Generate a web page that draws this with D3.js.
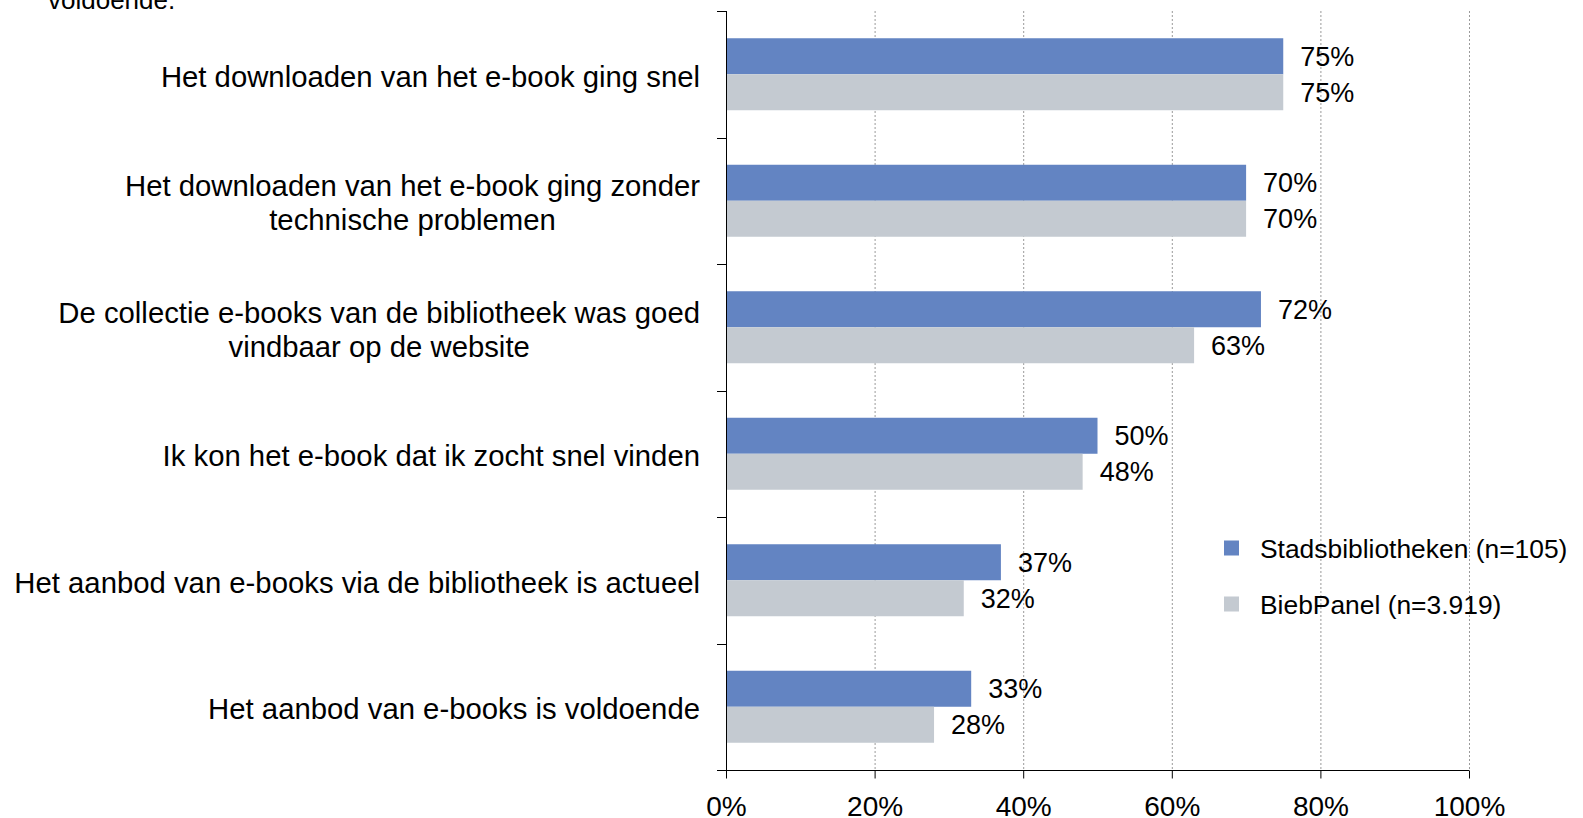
<!DOCTYPE html>
<html>
<head>
<meta charset="utf-8">
<script src="https://cdn.jsdelivr.net/npm/d3@7"></script>
<style>
  html, body { margin: 0; padding: 0; background: #fff; }
  svg { display: block; font-family: "Liberation Sans", Arial, sans-serif; }
</style>
</head>
<body>
<svg id="chart" width="1583" height="818"></svg>
<script>
// Statements about e-book use, top to bottom
const categories = [
  "Het downloaden van het e-book ging snel",
  "Het downloaden van het e-book ging zonder technische problemen",
  "De collectie e-books van de bibliotheek was goed vindbaar op de website",
  "Ik kon het e-book dat ik zocht snel vinden",
  "Het aanbod van e-books via de bibliotheek is actueel",
  "Het aanbod van e-books is voldoende"
];
const seriesNames = ["Stadsbibliotheken (n=105)", "BiebPanel (n=3.919)"];
const stadsValues = [75, 70, 72, 50, 37, 33];
const biebValues  = [75, 70, 63, 48, 32, 28];
const tickValues  = [0, 20, 40, 60, 80, 100];
const titleTail   = "voldoende.";

const colors = ["#6384c2", "#c4cad1"];

const svg = d3.select("#chart");

const x = d3.scaleLinear().domain([0, 100]).range([726, 1469]);
const y = d3.scaleBand().domain(categories).range([11, 770]).padding(0);
const ySub = d3.scaleBand().domain(seriesNames).range([0, y.bandwidth()])
  .paddingInner(0).paddingOuter(0.757);
const color = d3.scaleOrdinal().domain(seriesNames).range(colors);

const rows = categories.map((c, i) => ({
  category: c,
  values: [
    { series: seriesNames[0], value: stadsValues[i] },
    { series: seriesNames[1], value: biebValues[i] }
  ]
}));

// tail of the title line at the top edge
svg.append("text")
  .attr("x", 48).attr("y", 9)
  .attr("font-size", 26)
  .attr("fill", "#000")
  .text(titleTail);

// vertical gridlines
svg.append("g")
  .selectAll("line")
  .data(tickValues.filter(d => d > 0))
  .join("line")
  .attr("x1", d => x(d) + 0.5).attr("x2", d => x(d) + 0.5)
  .attr("y1", y.range()[0]).attr("y2", y.range()[1])
  .attr("stroke", "#9a9a9a")
  .attr("stroke-width", 1)
  .attr("stroke-dasharray", "2,2");

// bars
const groups = svg.append("g")
  .selectAll("g")
  .data(rows)
  .join("g")
  .attr("transform", d => `translate(0,${y(d.category)})`);

groups.selectAll("rect")
  .data(d => d.values)
  .join("rect")
  .attr("x", x(0))
  .attr("y", d => ySub(d.series))
  .attr("width", d => x(d.value) - x(0))
  .attr("height", ySub.bandwidth())
  .attr("fill", d => color(d.series));

groups.selectAll("text.val")
  .data(d => d.values)
  .join("text")
  .attr("class", "val")
  .attr("x", d => x(d.value) + 17)
  .attr("y", d => ySub(d.series) + ySub.bandwidth() / 2)
  .attr("dy", "0.36em")
  .attr("font-size", 27)
  .attr("fill", "#000")
  .text(d => d.value + "%");

// left axis line with ticks between categories
const axisG = svg.append("g");
axisG.append("line")
  .attr("x1", x(0) + 0.5).attr("x2", x(0) + 0.5)
  .attr("y1", y.range()[0]).attr("y2", y.range()[1])
  .attr("stroke", "#000");
const boundaries = categories.map(c => y(c)).concat([y.range()[1]]);
axisG.selectAll("line.tick")
  .data(boundaries)
  .join("line")
  .attr("class", "tick")
  .attr("x1", x(0) - 9).attr("x2", x(0))
  .attr("y1", d => Math.round(d) + 0.5).attr("y2", d => Math.round(d) + 0.5)
  .attr("stroke", "#000");

// bottom axis
const xAxis = d3.axisBottom(x)
  .tickValues(tickValues)
  .tickFormat(d => d + "%")
  .tickSize(8)
  .tickPadding(18)
  .tickSizeOuter(0);
const xg = svg.append("g")
  .attr("transform", `translate(0,${y.range()[1] + 0.5})`)
  .call(xAxis);
xg.select(".domain").remove();
xg.append("line")
  .attr("x1", x(0) - 9).attr("x2", x(100))
  .attr("y1", 0).attr("y2", 0)
  .attr("stroke", "#000");
xg.selectAll(".tick line").attr("stroke", "#000");
xg.selectAll(".tick text")
  .attr("font-size", 28)
  .attr("font-family", "'Liberation Sans', Arial, sans-serif")
  .attr("fill", "#000");

// category labels, wrapped and centred as a block right-aligned to the axis
const labelRight = 700;
const maxWidth = 695;
const lineGap = 34;
const labelG = svg.append("g");
categories.forEach(c => {
  const t = labelG.append("text")
    .attr("font-size", 29.3)
    .attr("fill", "#000")
    .attr("text-anchor", "middle");
  // greedy wrapping
  const words = c.split(" ");
  const lines = [];
  let current = [];
  const probe = t.append("tspan");
  words.forEach(w => {
    const test = current.concat([w]).join(" ");
    probe.text(test);
    if (probe.node().getComputedTextLength() > maxWidth && current.length) {
      lines.push(current.join(" "));
      current = [w];
    } else {
      current.push(w);
    }
  });
  lines.push(current.join(" "));
  let widest = 0;
  lines.forEach(l => {
    probe.text(l);
    widest = Math.max(widest, probe.node().getComputedTextLength());
  });
  probe.remove();
  const cx = labelRight - widest / 2;
  const cy = y(c) + y.bandwidth() / 2 + 2;
  lines.forEach((l, i) => {
    t.append("tspan")
      .attr("x", cx)
      .attr("y", cy + (i - (lines.length - 1) / 2) * lineGap)
      .attr("dy", "0.36em")
      .text(l);
  });
});

// legend
const legend = svg.append("g")
  .selectAll("g")
  .data(seriesNames)
  .join("g")
  .attr("transform", (d, i) => `translate(1224,${548 + i * 56})`);
legend.append("rect")
  .attr("x", 0).attr("y", -7.5)
  .attr("width", 15).attr("height", 15)
  .attr("fill", d => color(d));
legend.append("text")
  .attr("x", 36).attr("y", 0)
  .attr("dy", "0.36em")
  .attr("font-size", 26.4)
  .attr("fill", "#000")
  .text(d => d);
</script>
</body>
</html>
